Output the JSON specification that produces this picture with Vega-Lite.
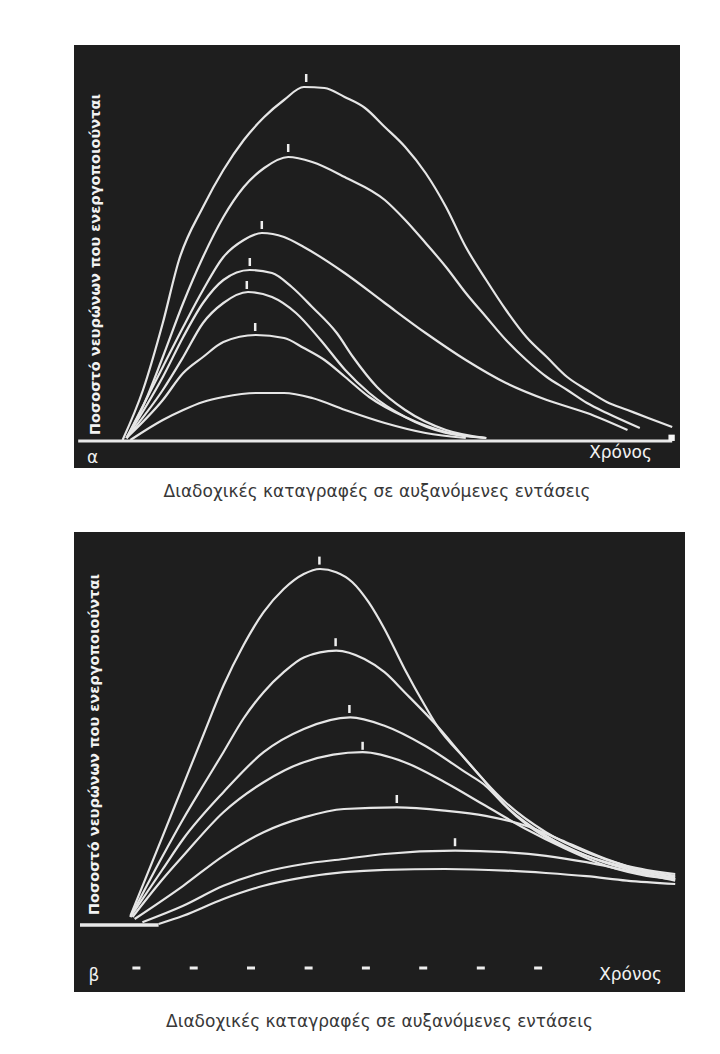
{
  "$schema": "https://vega.github.io/schema/vega-lite/v6.json",
  "background": "white",
  "padding": {"left": 72, "top": 45, "right": 37, "bottom": 12},
  "spacing": 32,
  "config": {
    "view": {"fill": "#1e1e1e", "stroke": null},
    "font": "DejaVu Sans",
    "axis": {"grid": false, "domain": false, "ticks": false, "labels": false, "minExtent": 0, "titlePadding": 0, "titleColor": "#f2f2f2", "titleFontSize": 15, "titleFontWeight": "normal", "titleFont": "DejaVu Sans"},
    "title": {"orient": "bottom", "anchor": "middle", "offset": 15, "fontSize": 17, "fontWeight": "normal", "color": "#383838", "font": "DejaVu Sans"}
  },
  "datasets": {
    "curvesA": [
      {"curve": "A", "t": 8.1, "v": 0.25}, {"curve": "A", "t": 11.5, "v": 12.75}, {"curve": "A", "t": 14.8, "v": 29.5}, {"curve": "A", "t": 17.5, "v": 45.25}, {"curve": "A", "t": 21.5, "v": 58.5}, {"curve": "A", "t": 24.9, "v": 67.75}, {"curve": "A", "t": 28.3, "v": 75.25}, {"curve": "A", "t": 31.7, "v": 81}, {"curve": "A", "t": 35, "v": 85.25}, {"curve": "A", "t": 38.3, "v": 88.5}, {"curve": "A", "t": 41.75, "v": 88.25}, {"curve": "A", "t": 45.1, "v": 86}, {"curve": "A", "t": 48.5, "v": 83.25}, {"curve": "A", "t": 51.8, "v": 78.5}, {"curve": "A", "t": 55.2, "v": 73.5}, {"curve": "A", "t": 58.6, "v": 67}, {"curve": "A", "t": 62, "v": 58.5}, {"curve": "A", "t": 65.3, "v": 48.5}, {"curve": "A", "t": 68.7, "v": 40.25}, {"curve": "A", "t": 72, "v": 32.75}, {"curve": "A", "t": 75.4, "v": 26}, {"curve": "A", "t": 78.8, "v": 21}, {"curve": "A", "t": 82.2, "v": 16}, {"curve": "A", "t": 85.5, "v": 12.75}, {"curve": "A", "t": 88.8, "v": 9.75}, {"curve": "A", "t": 92.25, "v": 7.75}, {"curve": "A", "t": 95.7, "v": 5.75}, {"curve": "A", "t": 99.7, "v": 3.5},
      {"curve": "B", "t": 8.75, "v": 0.75}, {"curve": "B", "t": 11.45, "v": 8.5}, {"curve": "B", "t": 14.8, "v": 21}, {"curve": "B", "t": 18.2, "v": 34.5}, {"curve": "B", "t": 21.5, "v": 46}, {"curve": "B", "t": 24.9, "v": 56}, {"curve": "B", "t": 28.3, "v": 63.5}, {"curve": "B", "t": 31.7, "v": 68.25}, {"curve": "B", "t": 35.7, "v": 71}, {"curve": "B", "t": 39.7, "v": 69.75}, {"curve": "B", "t": 45.1, "v": 66}, {"curve": "B", "t": 51.8, "v": 60.25}, {"curve": "B", "t": 55.2, "v": 55.25}, {"curve": "B", "t": 58.6, "v": 49.5}, {"curve": "B", "t": 62, "v": 43.5}, {"curve": "B", "t": 65.3, "v": 37}, {"curve": "B", "t": 68.7, "v": 31}, {"curve": "B", "t": 72, "v": 25.25}, {"curve": "B", "t": 75.4, "v": 20.25}, {"curve": "B", "t": 78.8, "v": 16}, {"curve": "B", "t": 82.2, "v": 12.75}, {"curve": "B", "t": 85.5, "v": 9.5}, {"curve": "B", "t": 88.8, "v": 7}, {"curve": "B", "t": 94.3, "v": 3.25},
      {"curve": "C", "t": 8.75, "v": 0.75}, {"curve": "C", "t": 14.8, "v": 18.5}, {"curve": "C", "t": 18.2, "v": 28.5}, {"curve": "C", "t": 21.5, "v": 37.75}, {"curve": "C", "t": 24.9, "v": 46}, {"curve": "C", "t": 28.3, "v": 50.25}, {"curve": "C", "t": 31.3, "v": 52}, {"curve": "C", "t": 35, "v": 51}, {"curve": "C", "t": 38.3, "v": 48.5}, {"curve": "C", "t": 45.1, "v": 42}, {"curve": "C", "t": 51.8, "v": 34.5}, {"curve": "C", "t": 58.6, "v": 27}, {"curve": "C", "t": 65.3, "v": 20.25}, {"curve": "C", "t": 72, "v": 14.5}, {"curve": "C", "t": 78.8, "v": 10.25}, {"curve": "C", "t": 85.5, "v": 7}, {"curve": "C", "t": 92.25, "v": 2.75},
      {"curve": "D", "t": 8.75, "v": 0.75}, {"curve": "D", "t": 14.8, "v": 16}, {"curve": "D", "t": 18.2, "v": 26}, {"curve": "D", "t": 21.5, "v": 34.5}, {"curve": "D", "t": 24.9, "v": 40.25}, {"curve": "D", "t": 29.3, "v": 42.75}, {"curve": "D", "t": 33, "v": 42}, {"curve": "D", "t": 36.3, "v": 38.5}, {"curve": "D", "t": 39.7, "v": 33.5}, {"curve": "D", "t": 43.8, "v": 27}, {"curve": "D", "t": 46.5, "v": 21}, {"curve": "D", "t": 50.5, "v": 13.5}, {"curve": "D", "t": 55.2, "v": 7.75}, {"curve": "D", "t": 62, "v": 2.75}, {"curve": "D", "t": 68.7, "v": 0.75},
      {"curve": "E", "t": 8.75, "v": 0.75}, {"curve": "E", "t": 14.8, "v": 12.75}, {"curve": "E", "t": 18.2, "v": 21}, {"curve": "E", "t": 21.5, "v": 29.5}, {"curve": "E", "t": 24.9, "v": 34.5}, {"curve": "E", "t": 29, "v": 37.25}, {"curve": "E", "t": 33, "v": 36}, {"curve": "E", "t": 37, "v": 32}, {"curve": "E", "t": 41.1, "v": 25.25}, {"curve": "E", "t": 45.2, "v": 17.75}, {"curve": "E", "t": 49.2, "v": 12}, {"curve": "E", "t": 55.2, "v": 6}, {"curve": "E", "t": 62, "v": 2}, {"curve": "E", "t": 68.7, "v": 0.75},
      {"curve": "F", "t": 8.75, "v": 0.75}, {"curve": "F", "t": 14.8, "v": 10.25}, {"curve": "F", "t": 18.2, "v": 17}, {"curve": "F", "t": 21.5, "v": 21}, {"curve": "F", "t": 24.9, "v": 24.75}, {"curve": "F", "t": 30.3, "v": 26.5}, {"curve": "F", "t": 35, "v": 25.75}, {"curve": "F", "t": 38.3, "v": 23.25}, {"curve": "F", "t": 41.75, "v": 20.25}, {"curve": "F", "t": 45.2, "v": 16}, {"curve": "F", "t": 49.2, "v": 11}, {"curve": "F", "t": 55.2, "v": 6}, {"curve": "F", "t": 62, "v": 2.25}, {"curve": "F", "t": 68.7, "v": 0.75},
      {"curve": "G", "t": 9.4, "v": 0.25}, {"curve": "G", "t": 14.8, "v": 5.25}, {"curve": "G", "t": 18.2, "v": 7.75}, {"curve": "G", "t": 21.5, "v": 9.75}, {"curve": "G", "t": 24.9, "v": 11}, {"curve": "G", "t": 30.3, "v": 12}, {"curve": "G", "t": 35, "v": 12}, {"curve": "G", "t": 39.7, "v": 10.75}, {"curve": "G", "t": 45.2, "v": 7.75}, {"curve": "G", "t": 51.8, "v": 4.5}, {"curve": "G", "t": 58.6, "v": 2}, {"curve": "G", "t": 65.3, "v": 0.75}
    ],
    "baseA": [{"t": 0.7, "v": 0}, {"t": 99.7, "v": 0}],
    "markersA": [
      {"t": 38.7, "v": 90.75}, {"t": 35.7, "v": 73.25}, {"t": 31.3, "v": 54}, {"t": 29.3, "v": 44.75}, {"t": 28.8, "v": 39}, {"t": 30.2, "v": 28.5}
    ],
    "blobA": [{"t": 99.6, "v": 0.8}],
    "labelA": [{"label": "α", "t": 3.1, "v": -4.25}],
    "curvesB": [
      {"curve": "P1", "t": 9.4, "v": 2.3}, {"curve": "P1", "t": 14.8, "v": 22.3}, {"curve": "P1", "t": 18.15, "v": 34.8}, {"curve": "P1", "t": 21.5, "v": 47.3}, {"curve": "P1", "t": 24.9, "v": 59.8}, {"curve": "P1", "t": 28.2, "v": 69.8}, {"curve": "P1", "t": 31.6, "v": 78.2}, {"curve": "P1", "t": 34.95, "v": 84}, {"curve": "P1", "t": 38.3, "v": 87.75}, {"curve": "P1", "t": 41, "v": 89}, {"curve": "P1", "t": 43.7, "v": 88.2}, {"curve": "P1", "t": 46.4, "v": 85.7}, {"curve": "P1", "t": 49.1, "v": 80.7}, {"curve": "P1", "t": 51.75, "v": 74}, {"curve": "P1", "t": 55.1, "v": 64}, {"curve": "P1", "t": 58.5, "v": 54.8}, {"curve": "P1", "t": 60.5, "v": 49.8}, {"curve": "P1", "t": 65.2, "v": 41.5}, {"curve": "P1", "t": 68.6, "v": 35.7}, {"curve": "P1", "t": 71.9, "v": 29.8}, {"curve": "P1", "t": 75.3, "v": 25.25}, {"curve": "P1", "t": 78.65, "v": 21.9}, {"curve": "P1", "t": 85.4, "v": 17.3}, {"curve": "P1", "t": 92.1, "v": 14.4}, {"curve": "P1", "t": 100.2, "v": 12.3},
      {"curve": "P2", "t": 9.4, "v": 2}, {"curve": "P2", "t": 14.8, "v": 17.3}, {"curve": "P2", "t": 18.2, "v": 26.5}, {"curve": "P2", "t": 21.5, "v": 34.8}, {"curve": "P2", "t": 24.9, "v": 43.2}, {"curve": "P2", "t": 28.2, "v": 51.5}, {"curve": "P2", "t": 31.6, "v": 58.2}, {"curve": "P2", "t": 34.95, "v": 63.2}, {"curve": "P2", "t": 38.3, "v": 66.9}, {"curve": "P2", "t": 43.7, "v": 68.6}, {"curve": "P2", "t": 48.4, "v": 66.5}, {"curve": "P2", "t": 51.75, "v": 63.2}, {"curve": "P2", "t": 55.1, "v": 58.2}, {"curve": "P2", "t": 60.5, "v": 49.8}, {"curve": "P2", "t": 65.2, "v": 41.5}, {"curve": "P2", "t": 68.6, "v": 35.7}, {"curve": "P2", "t": 71.9, "v": 30.7}, {"curve": "P2", "t": 78.65, "v": 23.2}, {"curve": "P2", "t": 85.4, "v": 18.2}, {"curve": "P2", "t": 92.1, "v": 14.8}, {"curve": "P2", "t": 100.2, "v": 12.75},
      {"curve": "P3", "t": 9.4, "v": 2}, {"curve": "P3", "t": 14.8, "v": 14}, {"curve": "P3", "t": 18.2, "v": 21.5}, {"curve": "P3", "t": 24.9, "v": 33.2}, {"curve": "P3", "t": 31.6, "v": 43.2}, {"curve": "P3", "t": 38.3, "v": 49}, {"curve": "P3", "t": 46.05, "v": 51.9}, {"curve": "P3", "t": 51.75, "v": 49.8}, {"curve": "P3", "t": 58.5, "v": 44.8}, {"curve": "P3", "t": 65.2, "v": 38.2}, {"curve": "P3", "t": 68.6, "v": 34.8}, {"curve": "P3", "t": 71.9, "v": 29.8}, {"curve": "P3", "t": 78.65, "v": 22.3}, {"curve": "P3", "t": 85.4, "v": 17.3}, {"curve": "P3", "t": 92.1, "v": 14}, {"curve": "P3", "t": 100.2, "v": 11.9},
      {"curve": "P4", "t": 9.75, "v": 2}, {"curve": "P4", "t": 14.8, "v": 11.5}, {"curve": "P4", "t": 18.2, "v": 17.3}, {"curve": "P4", "t": 24.9, "v": 28.2}, {"curve": "P4", "t": 31.6, "v": 35.7}, {"curve": "P4", "t": 38.3, "v": 40.7}, {"curve": "P4", "t": 48.1, "v": 43.2}, {"curve": "P4", "t": 55.1, "v": 40.7}, {"curve": "P4", "t": 61.8, "v": 35.7}, {"curve": "P4", "t": 68.6, "v": 29.8}, {"curve": "P4", "t": 75.3, "v": 24}, {"curve": "P4", "t": 82, "v": 19}, {"curve": "P4", "t": 88.7, "v": 14.8}, {"curve": "P4", "t": 95.45, "v": 12.3}, {"curve": "P4", "t": 100.2, "v": 11.5},
      {"curve": "P5", "t": 10.1, "v": 1.5}, {"curve": "P5", "t": 18.2, "v": 9.8}, {"curve": "P5", "t": 24.9, "v": 17.3}, {"curve": "P5", "t": 31.6, "v": 23.2}, {"curve": "P5", "t": 38.3, "v": 26.9}, {"curve": "P5", "t": 45, "v": 29}, {"curve": "P5", "t": 53.8, "v": 29.4}, {"curve": "P5", "t": 61.8, "v": 28.6}, {"curve": "P5", "t": 68.6, "v": 27.3}, {"curve": "P5", "t": 75.3, "v": 24.8}, {"curve": "P5", "t": 82, "v": 20.7}, {"curve": "P5", "t": 88.7, "v": 16.5}, {"curve": "P5", "t": 95.45, "v": 13.2}, {"curve": "P5", "t": 100.2, "v": 11.5},
      {"curve": "P6", "t": 11.4, "v": 0.7}, {"curve": "P6", "t": 18.2, "v": 4.8}, {"curve": "P6", "t": 24.9, "v": 9.8}, {"curve": "P6", "t": 31.6, "v": 13.2}, {"curve": "P6", "t": 38.3, "v": 15.25}, {"curve": "P6", "t": 45, "v": 16.5}, {"curve": "P6", "t": 51.75, "v": 17.75}, {"curve": "P6", "t": 63.5, "v": 18.6}, {"curve": "P6", "t": 71.9, "v": 18.2}, {"curve": "P6", "t": 78.65, "v": 17.3}, {"curve": "P6", "t": 85.4, "v": 15.7}, {"curve": "P6", "t": 92.1, "v": 13.6}, {"curve": "P6", "t": 100.2, "v": 11.1},
      {"curve": "P7", "t": 14.1, "v": 0.25}, {"curve": "P7", "t": 18.2, "v": 2.3}, {"curve": "P7", "t": 24.9, "v": 6.5}, {"curve": "P7", "t": 31.6, "v": 9.8}, {"curve": "P7", "t": 38.3, "v": 11.9}, {"curve": "P7", "t": 45, "v": 13.2}, {"curve": "P7", "t": 51.75, "v": 13.8}, {"curve": "P7", "t": 61.8, "v": 14}, {"curve": "P7", "t": 71.9, "v": 13.6}, {"curve": "P7", "t": 78.65, "v": 13}, {"curve": "P7", "t": 85.4, "v": 12.2}, {"curve": "P7", "t": 92.1, "v": 11.1}, {"curve": "P7", "t": 100.2, "v": 10.25}
    ],
    "baseB": [{"t": 1, "v": 0}, {"t": 14.1, "v": 0}],
    "markersB": [
      {"t": 40.9, "v": 91.1}, {"t": 43.6, "v": 70.7}, {"t": 45.9, "v": 54}, {"t": 48.1, "v": 44.8}, {"t": 53.8, "v": 31.5}, {"t": 63.5, "v": 20.7}
    ],
    "dashesB": [
      {"t": 10.4, "v": -10.75}, {"t": 19.95, "v": -10.75}, {"t": 29.5, "v": -10.75}, {"t": 39.1, "v": -10.75}, {"t": 48.65, "v": -10.75}, {"t": 58.2, "v": -10.75}, {"t": 67.8, "v": -10.75}, {"t": 77.35, "v": -10.75}
    ],
    "labelB": [{"label": "β", "t": 3.3, "v": -12.75}]
  },
  "vconcat": [
    {
      "width": 606,
      "height": 423,
      "title": {"text": "Διαδοχικές καταγραφές σε αυξανόμενες εντάσεις", "offset": 16},
      "encoding": {
        "x": {"field": "t", "type": "quantitative", "scale": {"domain": [0, 101], "nice": false, "zero": false}, "axis": {"title": "Χρόνος", "titleX": 546, "titleY": -16, "titleAlign": "center", "titleBaseline": "middle", "titleFontSize": 17}},
        "y": {"field": "v", "type": "quantitative", "scale": {"domain": [-6.75, 99], "nice": false, "zero": false}, "axis": {"title": "Ποσοστό νευρώνων που ενεργοποιούνται", "titleX": 21, "titleY": 219, "titleAlign": "center", "titleBaseline": "middle", "titleAngle": -90, "titleFontWeight": "bold", "titleFontSize": 14.5}}
      },
      "layer": [
        {"data": {"name": "baseA"}, "mark": {"type": "line", "stroke": "#e8e8e8", "strokeWidth": 3}},
        {"data": {"name": "curvesA"}, "mark": {"type": "line", "interpolate": "monotone", "stroke": "#e6e6e6", "strokeWidth": 2.2}, "encoding": {"detail": {"field": "curve", "type": "nominal"}}},
        {"data": {"name": "markersA"}, "mark": {"type": "tick", "orient": "vertical", "size": 8, "thickness": 2.5, "color": "#eeeeee", "opacity": 1}},
        {"data": {"name": "blobA"}, "mark": {"type": "point", "shape": "square", "size": 40, "filled": true, "color": "#f5f5f5", "opacity": 1}},
        {"data": {"name": "labelA"}, "mark": {"type": "text", "fontSize": 17, "color": "#f0f0f0", "font": "DejaVu Sans"}, "encoding": {"text": {"field": "label", "type": "nominal"}}}
      ]
    },
    {
      "width": 611,
      "height": 460,
      "title": {"text": "Διαδοχικές καταγραφές σε αυξανόμενες εντάσεις", "offset": 22},
      "encoding": {
        "x": {"field": "t", "type": "quantitative", "scale": {"domain": [0, 101.83], "nice": false, "zero": false}, "axis": {"title": "Χρόνος", "titleX": 556, "titleY": -18, "titleAlign": "center", "titleBaseline": "middle", "titleFontSize": 17}},
        "y": {"field": "v", "type": "quantitative", "scale": {"domain": [-16.75, 98.25], "nice": false, "zero": false}, "axis": {"title": "Ποσοστό νευρώνων που ενεργοποιούνται", "titleX": 20, "titleY": 212, "titleAlign": "center", "titleBaseline": "middle", "titleAngle": -90, "titleFontWeight": "bold", "titleFontSize": 14.5}}
      },
      "layer": [
        {"data": {"name": "baseB"}, "mark": {"type": "line", "stroke": "#e8e8e8", "strokeWidth": 3.5}},
        {"data": {"name": "curvesB"}, "mark": {"type": "line", "interpolate": "monotone", "stroke": "#e6e6e6", "strokeWidth": 2.2}, "encoding": {"detail": {"field": "curve", "type": "nominal"}}},
        {"data": {"name": "markersB"}, "mark": {"type": "tick", "orient": "vertical", "size": 8, "thickness": 2.5, "color": "#eeeeee", "opacity": 1}},
        {"data": {"name": "dashesB"}, "mark": {"type": "tick", "orient": "horizontal", "size": 8, "thickness": 3, "color": "#eeeeee", "opacity": 1}},
        {"data": {"name": "labelB"}, "mark": {"type": "text", "fontSize": 17, "color": "#f0f0f0", "font": "DejaVu Sans"}, "encoding": {"text": {"field": "label", "type": "nominal"}}}
      ]
    }
  ]
}
